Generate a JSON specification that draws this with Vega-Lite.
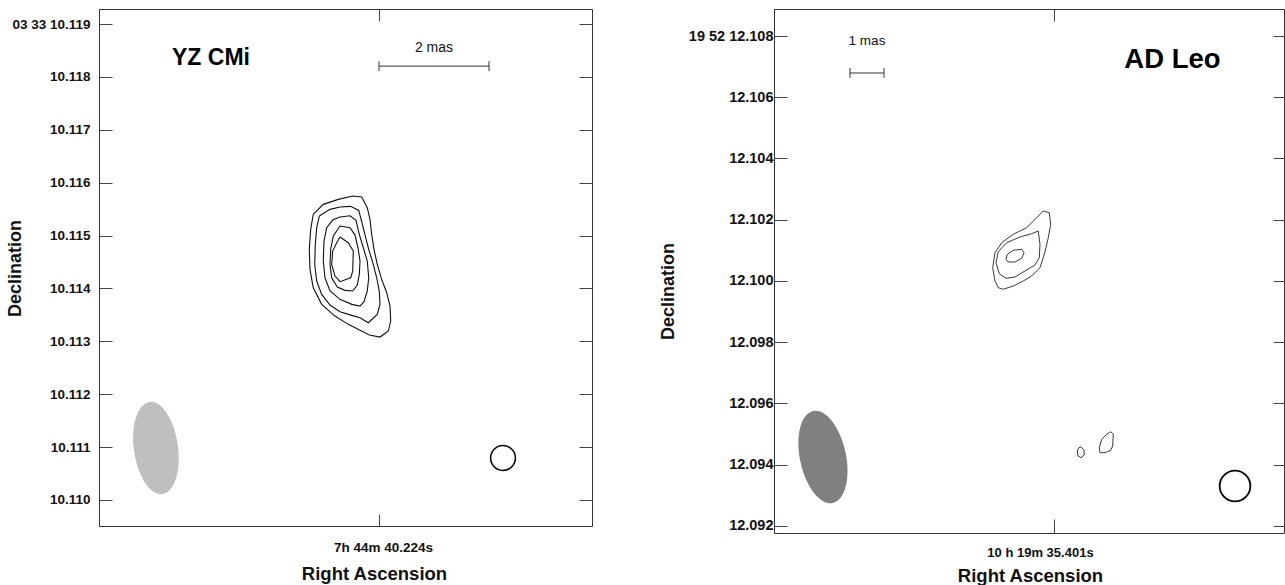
{
  "$schema": "https://vega.github.io/schema/vega-lite/v6.json",
  "padding": {"left": 5, "top": 8, "right": 0, "bottom": 0},
  "spacing": 65,
  "config": {
    "font": "Liberation Sans",
    "axis": {"grid": false, "domain": false, "labelFont": "Liberation Sans", "titleFont": "Liberation Sans", "labelFontWeight": "bold", "titleFontWeight": "bold", "tickColor": "#444", "labelColor": "#111", "titleColor": "#111"},
    "view": {"stroke": "#333", "strokeWidth": 1}
  },
  "datasets": {
    "contL": [
      {"c":1,"i":0,"x":-1.195,"y":10.115401},{"c":1,"i":1,"x":-1.013,"y":10.11559},{"c":1,"i":2,"x":-0.74,"y":10.115684},{"c":1,"i":3,"x":-0.478,"y":10.115747},{"c":1,"i":4,"x":-0.315,"y":10.115728},{"c":1,"i":5,"x":-0.213,"y":10.115526},{"c":1,"i":6,"x":-0.164,"y":10.115306},{"c":1,"i":7,"x":-0.133,"y":10.115023},{"c":1,"i":8,"x":-0.091,"y":10.114739},{"c":1,"i":9,"x":-0.031,"y":10.114456},{"c":1,"i":10,"x":0.049,"y":10.114172},{"c":1,"i":11,"x":0.14,"y":10.113919},{"c":1,"i":12,"x":0.2,"y":10.113667},{"c":1,"i":13,"x":0.213,"y":10.113384},{"c":1,"i":14,"x":0.169,"y":10.113195},{"c":1,"i":15,"x":0.018,"y":10.113081},{"c":1,"i":16,"x":-0.176,"y":10.113119},{"c":1,"i":17,"x":-0.345,"y":10.113208},{"c":1,"i":18,"x":-0.558,"y":10.113321},{"c":1,"i":19,"x":-0.8,"y":10.113478},{"c":1,"i":20,"x":-1.042,"y":10.113699},{"c":1,"i":21,"x":-1.195,"y":10.114013},{"c":1,"i":22,"x":-1.255,"y":10.114361},{"c":1,"i":23,"x":-1.267,"y":10.114739},{"c":1,"i":24,"x":-1.242,"y":10.115117},{"c":1,"i":25,"x":-1.195,"y":10.115401},
      {"c":2,"i":0,"x":-1.085,"y":10.115369},{"c":2,"i":1,"x":-0.891,"y":10.115495},{"c":2,"i":2,"x":-0.709,"y":10.115539},{"c":2,"i":3,"x":-0.515,"y":10.115552},{"c":2,"i":4,"x":-0.369,"y":10.115476},{"c":2,"i":5,"x":-0.309,"y":10.115242},{"c":2,"i":6,"x":-0.249,"y":10.114991},{"c":2,"i":7,"x":-0.187,"y":10.114739},{"c":2,"i":8,"x":-0.104,"y":10.114456},{"c":2,"i":9,"x":-0.042,"y":10.114202},{"c":2,"i":10,"x":0.005,"y":10.113951},{"c":2,"i":11,"x":0.018,"y":10.113699},{"c":2,"i":12,"x":-0.031,"y":10.11351},{"c":2,"i":13,"x":-0.195,"y":10.113352},{"c":2,"i":14,"x":-0.345,"y":10.113446},{"c":2,"i":15,"x":-0.496,"y":10.113491},{"c":2,"i":16,"x":-0.709,"y":10.11356},{"c":2,"i":17,"x":-0.891,"y":10.113686},{"c":2,"i":18,"x":-1.042,"y":10.113888},{"c":2,"i":19,"x":-1.133,"y":10.11414},{"c":2,"i":20,"x":-1.169,"y":10.114456},{"c":2,"i":21,"x":-1.158,"y":10.114834},{"c":2,"i":22,"x":-1.133,"y":10.115147},{"c":2,"i":23,"x":-1.085,"y":10.115369},
      {"c":3,"i":0,"x":-0.709,"y":10.11535},{"c":3,"i":1,"x":-0.527,"y":10.115374},{"c":3,"i":2,"x":-0.418,"y":10.115287},{"c":3,"i":3,"x":-0.358,"y":10.115023},{"c":3,"i":4,"x":-0.285,"y":10.114769},{"c":3,"i":5,"x":-0.213,"y":10.114518},{"c":3,"i":6,"x":-0.187,"y":10.114202},{"c":3,"i":7,"x":-0.213,"y":10.113951},{"c":3,"i":8,"x":-0.273,"y":10.113749},{"c":3,"i":9,"x":-0.345,"y":10.113667},{"c":3,"i":10,"x":-0.496,"y":10.113699},{"c":3,"i":11,"x":-0.709,"y":10.113794},{"c":3,"i":12,"x":-0.891,"y":10.113951},{"c":3,"i":13,"x":-0.982,"y":10.114202},{"c":3,"i":14,"x":-1.013,"y":10.114518},{"c":3,"i":15,"x":-1.0,"y":10.114896},{"c":3,"i":16,"x":-0.951,"y":10.115147},{"c":3,"i":17,"x":-0.842,"y":10.115293},{"c":3,"i":18,"x":-0.709,"y":10.11535},
      {"c":4,"i":0,"x":-0.709,"y":10.11518},{"c":4,"i":1,"x":-0.527,"y":10.115147},{"c":4,"i":2,"x":-0.436,"y":10.115009},{"c":4,"i":3,"x":-0.382,"y":10.114769},{"c":4,"i":4,"x":-0.345,"y":10.114518},{"c":4,"i":5,"x":-0.358,"y":10.114267},{"c":4,"i":6,"x":-0.395,"y":10.114064},{"c":4,"i":7,"x":-0.478,"y":10.113951},{"c":4,"i":8,"x":-0.618,"y":10.113964},{"c":4,"i":9,"x":-0.758,"y":10.114026},{"c":4,"i":10,"x":-0.86,"y":10.114202},{"c":4,"i":11,"x":-0.891,"y":10.114456},{"c":4,"i":12,"x":-0.878,"y":10.114739},{"c":4,"i":13,"x":-0.831,"y":10.114991},{"c":4,"i":14,"x":-0.709,"y":10.11518},
      {"c":5,"i":0,"x":-0.709,"y":10.114972},{"c":5,"i":1,"x":-0.558,"y":10.114864},{"c":5,"i":2,"x":-0.467,"y":10.114707},{"c":5,"i":3,"x":-0.478,"y":10.114329},{"c":5,"i":4,"x":-0.515,"y":10.114202},{"c":5,"i":5,"x":-0.709,"y":10.114127},{"c":5,"i":6,"x":-0.8,"y":10.114234},{"c":5,"i":7,"x":-0.86,"y":10.114456},{"c":5,"i":8,"x":-0.842,"y":10.114707},{"c":5,"i":9,"x":-0.769,"y":10.114864},{"c":5,"i":10,"x":-0.709,"y":10.114972}
    ],
    "contR": [
      {"c":1,"i":0,"x":-0.315,"y":12.102286},{"c":1,"i":1,"x":-0.138,"y":12.10223},{"c":1,"i":2,"x":-0.097,"y":12.101851},{"c":1,"i":3,"x":-0.168,"y":12.101414},{"c":1,"i":4,"x":-0.235,"y":12.101087},{"c":1,"i":5,"x":-0.315,"y":12.100761},{"c":1,"i":6,"x":-0.412,"y":12.100434},{"c":1,"i":7,"x":-0.656,"y":12.100163},{"c":1,"i":8,"x":-0.903,"y":12.1},{"c":1,"i":9,"x":-1.197,"y":12.099837},{"c":1,"i":10,"x":-1.491,"y":12.099729},{"c":1,"i":11,"x":-1.638,"y":12.099781},{"c":1,"i":12,"x":-1.735,"y":12.1},{"c":1,"i":13,"x":-1.803,"y":12.100434},{"c":1,"i":14,"x":-1.735,"y":12.100924},{"c":1,"i":15,"x":-1.538,"y":12.101251},{"c":1,"i":16,"x":-1.197,"y":12.101525},{"c":1,"i":17,"x":-0.803,"y":12.10174},{"c":1,"i":18,"x":-0.656,"y":12.101904},{"c":1,"i":19,"x":-0.462,"y":12.102122},{"c":1,"i":20,"x":-0.315,"y":12.102286},
      {"c":2,"i":0,"x":-0.462,"y":12.101633},{"c":2,"i":1,"x":-0.412,"y":12.101198},{"c":2,"i":2,"x":-0.432,"y":12.100761},{"c":2,"i":3,"x":-0.559,"y":12.100522},{"c":2,"i":4,"x":-0.853,"y":12.100327},{"c":2,"i":5,"x":-1.147,"y":12.100131},{"c":2,"i":6,"x":-1.412,"y":12.100088},{"c":2,"i":7,"x":-1.609,"y":12.100238},{"c":2,"i":8,"x":-1.706,"y":12.100598},{"c":2,"i":9,"x":-1.638,"y":12.100957},{"c":2,"i":10,"x":-1.391,"y":12.101251},{"c":2,"i":11,"x":-1.0,"y":12.101437},{"c":2,"i":12,"x":-0.656,"y":12.101545},{"c":2,"i":13,"x":-0.462,"y":12.101633},
      {"c":3,"i":0,"x":-0.95,"y":12.101035},{"c":3,"i":1,"x":-0.882,"y":12.100924},{"c":3,"i":2,"x":-0.95,"y":12.100741},{"c":3,"i":3,"x":-1.147,"y":12.10062},{"c":3,"i":4,"x":-1.344,"y":12.10062},{"c":3,"i":5,"x":-1.412,"y":12.100709},{"c":3,"i":6,"x":-1.374,"y":12.100872},{"c":3,"i":7,"x":-1.197,"y":12.101003},{"c":3,"i":8,"x":-0.95,"y":12.101035},
      {"c":4,"i":0,"x":0.794,"y":12.09458},{"c":4,"i":1,"x":0.882,"y":12.094482},{"c":4,"i":2,"x":0.891,"y":12.094318},{"c":4,"i":3,"x":0.794,"y":12.09423},{"c":4,"i":4,"x":0.706,"y":12.094286},{"c":4,"i":5,"x":0.685,"y":12.094449},{"c":4,"i":6,"x":0.735,"y":12.094563},{"c":4,"i":7,"x":0.794,"y":12.09458},
      {"c":5,"i":0,"x":1.668,"y":12.095079},{"c":5,"i":1,"x":1.744,"y":12.094994},{"c":5,"i":2,"x":1.726,"y":12.094612},{"c":5,"i":3,"x":1.668,"y":12.094472},{"c":5,"i":4,"x":1.5,"y":12.094393},{"c":5,"i":5,"x":1.353,"y":12.094393},{"c":5,"i":6,"x":1.332,"y":12.094557},{"c":5,"i":7,"x":1.403,"y":12.094831},{"c":5,"i":8,"x":1.55,"y":12.094994},{"c":5,"i":9,"x":1.668,"y":12.095079}
    ],
    "beamL": [{"x": -4.055, "y": 10.110983}],
    "ringL": [{"x": 2.255, "y": 10.110794}],
    "barL": [{"x": 0, "x2": 2, "y": 10.118204}],
    "capsL": [{"x": 0, "y": 10.118204}, {"x": 2, "y": 10.118204}],
    "barTextL": [{"x": 1, "y": 10.118545, "label": "2 mas"}],
    "nameL": [{"x": -3.055, "y": 10.118365, "label": "YZ CMi"}],
    "beamR": [{"x": -6.794, "y": 12.094253}],
    "ringR": [{"x": 5.324, "y": 12.093306}],
    "barR": [{"x": -6, "x2": -5, "y": 12.106792}],
    "capsR": [{"x": -6, "y": 12.106792}, {"x": -5, "y": 12.106792}],
    "barTextR": [{"x": -5.5, "y": 12.107837, "label": "1 mas"}],
    "nameR": [{"x": 3.485, "y": 12.107216, "label": "AD Leo"}]
  },
  "hconcat": [
    {
      "width": 493,
      "height": 517,
      "layer": [
        {
          "data": {"name": "contL"},
          "mark": {"type": "line", "stroke": "#111", "strokeWidth": 1.1},
          "encoding": {
            "x": {"field": "x", "type": "quantitative", "scale": {"domain": [-5.091, 3.873], "nice": false, "zero": false},
                  "axis": {"orient": "bottom", "values": [0], "labelExpr": "'7h 44m 40.224s'", "tickSize": -12, "labelPadding": 33, "labelBaseline": "middle", "labelFontSize": 13.5, "labelOffset": 4,
                           "title": "Right Ascension", "titleFontSize": 18.5, "titleX": 275, "titleY": 47, "titleBaseline": "middle"}},
            "y": {"field": "y", "type": "quantitative", "scale": {"domain": [10.109508, 10.119284], "nice": false, "zero": false},
                  "axis": {"orient": "left", "values": [10.11, 10.111, 10.112, 10.113, 10.114, 10.115, 10.116, 10.117, 10.118, 10.119], "labelExpr": "datum.value > 10.1185 ? '03 33 10.119' : format(datum.value, '.3f')", "tickSize": -13, "labelPadding": 22, "labelFontSize": 13.5,
                           "title": "Declination", "titleFontSize": 18, "titleX": -84, "titleY": 259, "titleBaseline": "middle"}},
            "detail": {"field": "c", "type": "nominal"},
            "order": {"field": "i", "type": "quantitative"}
          }
        },
        {
          "data": {"name": "beamL"},
          "mark": {"type": "point", "shape": "M0,-1A0.475,1,0,1,1,0,1A0.475,1,0,1,1,0,-1Z", "size": 8649, "angle": 352, "filled": true, "fill": "#bfbfbf", "stroke": null, "opacity": 1},
          "encoding": {
            "x": {"field": "x", "type": "quantitative", "axis": null},
            "y": {"field": "y", "type": "quantitative", "axis": null}
          }
        },
        {
          "data": {"name": "ringL"},
          "mark": {"type": "point", "shape": "circle", "size": 616, "filled": false, "stroke": "#000", "strokeWidth": 1.5, "opacity": 1},
          "encoding": {
            "x": {"field": "x", "type": "quantitative", "axis": {"orient": "top", "values": [0], "labels": false, "tickSize": -12, "title": null}},
            "y": {"field": "y", "type": "quantitative", "axis": {"orient": "right", "values": [10.11, 10.111, 10.112, 10.113, 10.114, 10.115, 10.116, 10.117, 10.118, 10.119], "labels": false, "tickSize": -13, "title": null}}
          }
        },
        {
          "data": {"name": "barL"},
          "mark": {"type": "rule", "stroke": "#333", "strokeWidth": 1},
          "encoding": {
            "x": {"field": "x", "type": "quantitative", "axis": null},
            "x2": {"field": "x2"},
            "y": {"field": "y", "type": "quantitative", "axis": null}
          }
        },
        {
          "data": {"name": "capsL"},
          "mark": {"type": "point", "shape": "M0,-1L0,1", "size": 100, "filled": false, "stroke": "#333", "strokeWidth": 1, "opacity": 1},
          "encoding": {
            "x": {"field": "x", "type": "quantitative", "axis": null},
            "y": {"field": "y", "type": "quantitative", "axis": null}
          }
        },
        {
          "data": {"name": "barTextL"},
          "mark": {"type": "text", "font": "Liberation Sans", "fontSize": 14, "align": "center", "baseline": "middle", "color": "#111"},
          "encoding": {
            "x": {"field": "x", "type": "quantitative", "axis": null},
            "y": {"field": "y", "type": "quantitative", "axis": null},
            "text": {"field": "label"}
          }
        },
        {
          "data": {"name": "nameL"},
          "mark": {"type": "text", "font": "Liberation Sans", "fontSize": 23, "fontWeight": "bold", "align": "center", "baseline": "middle", "color": "#000"},
          "encoding": {
            "x": {"field": "x", "type": "quantitative", "axis": null},
            "y": {"field": "y", "type": "quantitative", "axis": null},
            "text": {"field": "label"}
          }
        }
      ]
    },
    {
      "width": 510,
      "height": 524,
      "layer": [
        {
          "data": {"name": "contR"},
          "mark": {"type": "line", "stroke": "#222", "strokeWidth": 0.9},
          "encoding": {
            "x": {"field": "x", "type": "quantitative", "scale": {"domain": [-8.235, 6.765], "nice": false, "zero": false},
                  "axis": {"orient": "bottom", "values": [0], "labelExpr": "'10 h 19m 35.401s'", "tickSize": -14, "labelPadding": 33, "labelBaseline": "middle", "labelFontSize": 13, "labelOffset": -14,
                           "title": "Right Ascension", "titleFontSize": 18.5, "titleX": 256, "titleY": 42, "titleBaseline": "middle"}},
            "y": {"field": "y", "type": "quantitative", "scale": {"domain": [12.09177, 12.108882], "nice": false, "zero": false},
                  "axis": {"orient": "left", "values": [12.092, 12.094, 12.096, 12.098, 12.1, 12.102, 12.104, 12.106, 12.108], "labelExpr": "datum.value > 12.107 ? '19 52 12.108' : format(datum.value, '.3f')", "tickSize": -13, "labelPadding": 14, "labelFontSize": 14.5,
                           "title": "Declination", "titleFontSize": 18, "titleX": -106, "titleY": 282, "titleBaseline": "middle"}},
            "detail": {"field": "c", "type": "nominal"},
            "order": {"field": "i", "type": "quantitative"}
          }
        },
        {
          "data": {"name": "beamR"},
          "mark": {"type": "point", "shape": "M0,-1A0.49,1,0,1,1,0,1A0.49,1,0,1,1,0,-1Z", "size": 8836, "angle": 348, "filled": true, "fill": "#808080", "stroke": null, "opacity": 1},
          "encoding": {
            "x": {"field": "x", "type": "quantitative", "axis": null},
            "y": {"field": "y", "type": "quantitative", "axis": null}
          }
        },
        {
          "data": {"name": "ringR"},
          "mark": {"type": "point", "shape": "circle", "size": 943, "filled": false, "stroke": "#000", "strokeWidth": 1.8, "opacity": 1},
          "encoding": {
            "x": {"field": "x", "type": "quantitative", "axis": {"orient": "top", "values": [0], "labels": false, "tickSize": -12, "title": null}},
            "y": {"field": "y", "type": "quantitative", "axis": {"orient": "right", "values": [12.092, 12.094, 12.096, 12.098, 12.1, 12.102, 12.104, 12.106, 12.108], "labels": false, "tickSize": -11, "title": null}}
          }
        },
        {
          "data": {"name": "barR"},
          "mark": {"type": "rule", "stroke": "#333", "strokeWidth": 1},
          "encoding": {
            "x": {"field": "x", "type": "quantitative", "axis": null},
            "x2": {"field": "x2"},
            "y": {"field": "y", "type": "quantitative", "axis": null}
          }
        },
        {
          "data": {"name": "capsR"},
          "mark": {"type": "point", "shape": "M0,-1L0,1", "size": 100, "filled": false, "stroke": "#333", "strokeWidth": 1, "opacity": 1},
          "encoding": {
            "x": {"field": "x", "type": "quantitative", "axis": null},
            "y": {"field": "y", "type": "quantitative", "axis": null}
          }
        },
        {
          "data": {"name": "barTextR"},
          "mark": {"type": "text", "font": "Liberation Sans", "fontSize": 13.5, "align": "center", "baseline": "middle", "color": "#111"},
          "encoding": {
            "x": {"field": "x", "type": "quantitative", "axis": null},
            "y": {"field": "y", "type": "quantitative", "axis": null},
            "text": {"field": "label"}
          }
        },
        {
          "data": {"name": "nameR"},
          "mark": {"type": "text", "font": "Liberation Sans", "fontSize": 27.5, "fontWeight": "bold", "align": "center", "baseline": "middle", "color": "#000"},
          "encoding": {
            "x": {"field": "x", "type": "quantitative", "axis": null},
            "y": {"field": "y", "type": "quantitative", "axis": null},
            "text": {"field": "label"}
          }
        }
      ]
    }
  ]
}
